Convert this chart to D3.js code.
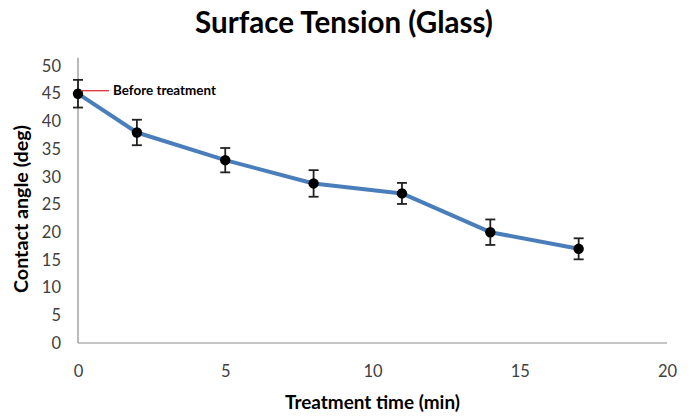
<!DOCTYPE html>
<html>
<head>
<meta charset="utf-8">
<script src="https://cdn.jsdelivr.net/npm/d3@7"></script>
<style>
  body { margin: 0; background: #fff; }
  text { font-family: Lato, "Open Sans", sans-serif; }
</style>
</head>
<body>
<div id="chart"></div>
<script>
// Chart dimensions
const width = 693;
const height = 418;
const margin = { top: 66, right: 26, bottom: 75, left: 78 };

// Data
const times = [0, 2, 5, 8, 11, 14, 17];
const angles = [45, 38, 33, 28.8, 27, 20, 17];
const errors = [2.5, 2.3, 2.2, 2.4, 1.9, 2.3, 1.9];
const xTicks = [0, 5, 10, 15, 20];
const yTicks = [0, 5, 10, 15, 20, 25, 30, 35, 40, 45, 50];

const points = times.map((t, i) => ({ t, a: angles[i], e: errors[i] }));

const svg = d3.select("#chart")
    .append("svg")
    .attr("width", width)
    .attr("height", height);

// shrink/grow a text's font size so it spans roughly the wanted width
function fitWidth(sel, target) {
    const node = sel.node();
    const fs = parseFloat(sel.style("font-size"));
    const w = node.getComputedTextLength();
    if (w > 0) sel.style("font-size", (fs * target / w).toFixed(2) + "px");
}

// Scales
const x = d3.scaleLinear()
    .domain([0, 20])
    .range([margin.left, width - margin.right]);

const y = d3.scaleLinear()
    .domain([0, 50])
    .range([height - margin.bottom, margin.top]);

// Axis lines
svg.append("line")
    .attr("x1", x(0)).attr("x2", x(20))
    .attr("y1", y(0)).attr("y2", y(0))
    .attr("stroke", "#8c8c8c").attr("stroke-width", 1.2);

svg.append("line")
    .attr("x1", x(0)).attr("x2", x(0))
    .attr("y1", y(0)).attr("y2", y(51.5))
    .attr("stroke", "#8c8c8c").attr("stroke-width", 1.2);

// Tick labels
svg.append("g")
    .attr("transform", `translate(0, ${y(0)})`)
    .call(d3.axisBottom(x).tickValues(xTicks).tickSize(0).tickPadding(22))
    .call(g => g.select(".domain").remove())
    .selectAll("text")
    .style("font-family", "Lato, sans-serif")
    .style("font-size", "16.5px")
    .attr("fill", "#404040");

svg.append("g")
    .attr("transform", `translate(${x(0)}, 0)`)
    .call(d3.axisLeft(y).tickValues(yTicks).tickSize(0).tickPadding(17))
    .call(g => g.select(".domain").remove())
    .selectAll("text")
    .style("font-family", "Lato, sans-serif")
    .style("font-size", "16.5px")
    .attr("fill", "#404040");

// Line
const line = d3.line()
    .x(d => x(d.t))
    .y(d => y(d.a));

svg.append("path")
    .datum(points)
    .attr("fill", "none")
    .attr("stroke", "#4a7ebb")
    .attr("stroke-width", 4)
    .attr("stroke-linejoin", "round")
    .attr("d", line);

// Error bars
const bars = svg.append("g")
    .attr("stroke", "#222")
    .attr("stroke-width", 1.8);

bars.selectAll(".stem")
    .data(points)
    .enter()
    .append("line")
    .attr("x1", d => x(d.t)).attr("x2", d => x(d.t))
    .attr("y1", d => y(d.a + d.e)).attr("y2", d => y(d.a - d.e));

bars.selectAll(".capTop")
    .data(points)
    .enter()
    .append("line")
    .attr("x1", d => x(d.t) - 5).attr("x2", d => x(d.t) + 5)
    .attr("y1", d => y(d.a + d.e)).attr("y2", d => y(d.a + d.e));

bars.selectAll(".capBottom")
    .data(points)
    .enter()
    .append("line")
    .attr("x1", d => x(d.t) - 5).attr("x2", d => x(d.t) + 5)
    .attr("y1", d => y(d.a - d.e)).attr("y2", d => y(d.a - d.e));

// Markers
svg.selectAll("circle")
    .data(points)
    .enter()
    .append("circle")
    .attr("cx", d => x(d.t))
    .attr("cy", d => y(d.a))
    .attr("r", 5.2)
    .attr("fill", "#000");

// Annotation for the first point
svg.append("line")
    .attr("x1", x(0) + 3).attr("x2", x(0) + 31)
    .attr("y1", y(angles[0]) - 3).attr("y2", y(angles[0]) - 3)
    .attr("stroke", "#e03030").attr("stroke-width", 1.3);

svg.append("text")
    .attr("x", x(0) + 35)
    .attr("y", y(angles[0]) + 1.5)
    .style("font-size", "13px")
    .style("font-weight", "bold")
    .text("Before treatment")
    .call(fitWidth, 103);

// Titles
svg.append("text")
    .attr("x", 344)
    .attr("y", 33)
    .style("text-anchor", "middle")
    .style("font-size", "29px")
    .style("font-weight", "bold")
    .text("Surface Tension (Glass)")
    .call(fitWidth, 298);

svg.append("text")
    .attr("x", (x(0) + x(20)) / 2)
    .attr("y", 409)
    .style("text-anchor", "middle")
    .style("font-size", "16px")
    .style("font-weight", "bold")
    .text("Treatment time (min)")
    .call(fitWidth, 175);

svg.append("text")
    .attr("x", -209)
    .attr("y", 28)
    .attr("transform", "rotate(-90)")
    .style("text-anchor", "middle")
    .style("font-size", "16px")
    .style("font-weight", "bold")
    .text("Contact angle (deg)")
    .call(fitWidth, 168);
</script>
</body>
</html>
